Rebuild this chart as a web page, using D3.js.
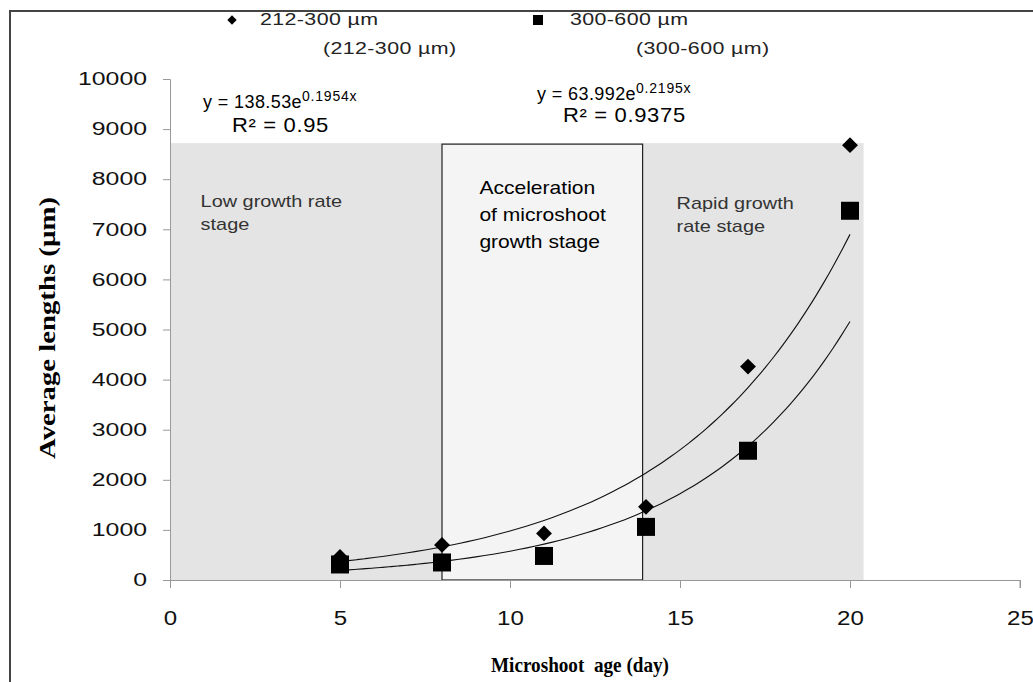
<!DOCTYPE html>
<html>
<head>
<meta charset="utf-8">
<script src="https://cdn.jsdelivr.net/npm/d3@7"></script>
<style>
  body { margin: 0; background: #fff; }
  svg { display: block; }
</style>
</head>
<body>
<svg id="chart" width="1033" height="682"></svg>
<script>
// data
const days = [5, 8, 11, 14, 17, 20];
const small = [460, 700, 930, 1460, 4260, 8680];   // 212-300 µm
const large = [310, 350, 480, 1060, 2580, 7370];   // 300-600 µm
const xTicks = [0, 5, 10, 15, 20, 25];
const yTicks = d3.range(0, 10001, 1000);
const fits = [
    { a: 138.53, b: 0.1954, eq: "y = 138.53e", exp: "0.1954x", r2: "R² = 0.95" },
    { a: 63.992, b: 0.2195, eq: "y = 63.992e", exp: "0.2195x", r2: "R² = 0.9375" }
];
const legendNames = ["212-300 µm", "300-600 µm"];
const stages = [
    { from: 0, to: 20.4, top: 8720, fill: "#e4e4e4", border: false },
    { from: 8, to: 13.9, top: 8700, fill: "#f4f4f4", border: true }
];
const stageLabels = [
    { x: 0.9, y: 7450, size: 17, color: "#333", lines: ["Low growth rate", "stage"] },
    { x: 9.1, y: 7700, size: 18, color: "#000", lines: ["Acceleration", "of microshoot", "growth stage"] },
    { x: 14.9, y: 7400, size: 17, color: "#333", lines: ["Rapid growth", "rate stage"] }
];

const sans = "Liberation Sans, Arial, sans-serif"
const serif = "Liberation Serif, Times New Roman, serif"
const stretch = 1.17   // the whole picture is a bit wide
const svg = d3.select("#chart")

// outer frame
svg.append("path")
    .attr("d", "M10,682 V11 H1033")
    .attr("fill", "none")
    .attr("stroke", "#444")
    .attr("stroke-width", 2)

const x = d3.scaleLinear().domain([0, 25]).range([170, 1020])
const y = d3.scaleLinear().domain([0, 10000]).range([580, 79])

// stage backgrounds
svg.selectAll("rect.stage")
    .data(stages)
    .join("rect")
    .attr("class", "stage")
    .attr("x", d => x(d.from))
    .attr("y", d => y(d.top))
    .attr("width", d => x(d.to) - x(d.from))
    .attr("height", d => y(0) - y(d.top))
    .attr("fill", d => d.fill)
    .attr("stroke", d => d.border ? "#222" : "none")
    .attr("stroke-width", 1.2)

// axes
const xAxis = svg.append("g")
    .attr("transform", `translate(0,${y(0)})`)
    .call(d3.axisBottom(x).tickValues(xTicks).tickSize(8).tickPadding(23).tickFormat(d3.format("d")))
const yAxis = svg.append("g")
    .attr("transform", `translate(${x(0)},0)`)
    .call(d3.axisLeft(y).tickValues(yTicks).tickSize(7).tickPadding(16).tickFormat(d3.format("d")))

;[xAxis, yAxis].forEach(g => {
    g.selectAll("path.domain").attr("stroke", "#999")
    g.selectAll(".tick line").attr("stroke", "#999")
    g.selectAll(".tick text")
        .attr("fill", "#111")
        .style("font-family", sans)
})
xAxis.selectAll("path.domain").attr("d", `M${x(0)},0.5H${x(25)}V8`)
yAxis.selectAll(".tick text")
    .style("font-size", "18px")
    .attr("lengthAdjust", "spacingAndGlyphs")
    .attr("textLength", d => String(d).length * 13.8)
xAxis.selectAll(".tick text")
    .style("font-size", "20px")
    .attr("lengthAdjust", "spacingAndGlyphs")
    .attr("textLength", d => String(d).length * 13.4)

// stage labels, widened like the picture
stageLabels.forEach(s => {
    const t = svg.append("text")
        .attr("transform", `translate(${x(s.x)},${y(s.y)}) scale(${stretch},1)`)
        .attr("fill", s.color)
        .style("font-family", sans)
        .style("font-size", s.size + "px")
    s.lines.forEach((l, i) => {
        t.append("tspan").attr("x", 0).attr("dy", i ? (s.size > 17 ? "1.5em" : "1.35em") : 0).text(l)
    })
})

// trend lines from the fitted equations
const line = d3.line().x(d => x(d[0])).y(d => y(d[1])).curve(d3.curveBasis)
fits.forEach(f => {
    const pts = d3.range(5, 20.01, 0.25).map(t => [t, f.a * Math.exp(f.b * t)])
    svg.append("path")
        .attr("d", line(pts))
        .attr("fill", "none")
        .attr("stroke", "#111")
        .attr("stroke-width", 1.1)
})

// markers
const diamond = d3.symbol().type(d3.symbolDiamond2).size(160)
svg.selectAll("path.dia")
    .data(days.map((d, i) => [d, small[i]]))
    .join("path")
    .attr("class", "dia")
    .attr("d", diamond)
    .attr("transform", d => `translate(${x(d[0])},${y(d[1])})`)
    .attr("fill", "#000")

svg.selectAll("rect.sq")
    .data(days.map((d, i) => [d, large[i]]))
    .join("rect")
    .attr("class", "sq")
    .attr("x", d => x(d[0]) - 9)
    .attr("y", d => y(d[1]) - 9)
    .attr("width", 18)
    .attr("height", 18)
    .attr("fill", "#000")

// equations
const eqPos = [[203, 108, 232, 132], [537, 100, 563, 122]]
fits.forEach((f, i) => {
    const p = eqPos[i]
    const t = svg.append("text")
        .attr("x", p[0]).attr("y", p[1])
        .attr("fill", "#000")
        .style("font-family", sans)
        .style("font-size", "18px")
        .style("letter-spacing", "0.4px")
        .text(f.eq)
    const w = t.node().getComputedTextLength()
    svg.append("text")
        .attr("x", p[0] + w).attr("y", p[1] - 7)
        .style("font-family", sans)
        .style("font-size", "14px")
        .style("letter-spacing", "0.8px")
        .text(f.exp)
    svg.append("text")
        .attr("transform", `translate(${p[2]},${p[3]}) scale(1.1,1)`)
        .style("font-family", sans)
        .style("font-size", "20px")
        .style("letter-spacing", "0.6px")
        .text(f.r2)
})

// legend
svg.append("path")
    .attr("d", d3.symbol().type(d3.symbolDiamond2).size(55))
    .attr("transform", "translate(232,20)")
svg.append("rect").attr("x", 533).attr("y", 15).attr("width", 10).attr("height", 10)
const legendSpots = [[260, 25], [570, 25], [323, 54], [636, 54]]
const legendTexts = [...legendNames, ...legendNames.map(n => `(${n})`)]
svg.selectAll("text.leg")
    .data(legendTexts)
    .join("text")
    .attr("class", "leg")
    .attr("transform", (d, i) => `translate(${legendSpots[i][0]},${legendSpots[i][1]}) scale(1.26,1)`)
    .attr("fill", "#222")
    .style("font-family", sans)
    .style("font-size", "17px")
    .style("letter-spacing", "0.3px")
    .text(d => d)

// axis titles
svg.append("text")
    .attr("transform", "translate(55,328) rotate(-90)")
    .attr("text-anchor", "middle")
    .style("font-family", serif)
    .style("font-weight", "bold")
    .style("font-size", "23px")
    .attr("lengthAdjust", "spacingAndGlyphs")
    .attr("textLength", 262)
    .text("Average lengths (µm)")
svg.append("text")
    .attr("x", 580).attr("y", 672)
    .attr("text-anchor", "middle")
    .style("font-family", serif)
    .style("font-weight", "bold")
    .style("font-size", "22px")
    .style("white-space", "pre")
    .attr("lengthAdjust", "spacingAndGlyphs")
    .attr("textLength", 178)
    .text("Microshoot  age (day)")
</script>
</body>
</html>
